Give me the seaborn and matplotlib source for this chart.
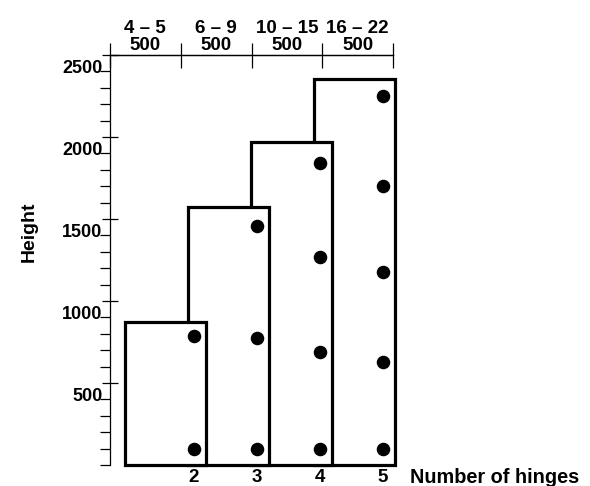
import matplotlib
matplotlib.use("Agg")
import matplotlib.pyplot as plt
import matplotlib.transforms as mtransforms
from matplotlib.ticker import MultipleLocator
import seaborn as sns
import pandas as pd

# ---- data ----
hinges = [2, 3, 4, 5]
bar_heights = [870, 1575, 1970, 2355]
dot_hinges = [2, 2, 3, 3, 3, 4, 4, 4, 4, 5, 5, 5, 5, 5]
dot_heights = [100, 785, 100, 775, 1455, 100, 690, 1270, 1840, 100, 630, 1175, 1700, 2250]
top_ranges = ["4 – 5", "6 – 9", "10 – 15", "16 – 22"]
top_values = ["500", "500", "500", "500"]
y_ticks = [500, 1000, 1500, 2000, 2500]
x_label = "Number of hinges"
y_label = "Height"

sns.set_theme(style="white")
plt.rcParams['font.family'] = ['Liberation Sans', 'DejaVu Sans']
plt.rcParams['font.weight'] = 'bold'

fig = plt.figure(figsize=(5.9, 4.86), dpi=100)
ax = fig.add_axes([110 / 590, 21 / 486, 283 / 590, 410 / 486])

# bars: drawn back to front so the left (lower) boxes sit in front
n = len(hinges)
for i in reversed(range(n)):
    ax.bar(hinges[i] - 1.1, bar_heights[i], width=1.29, align='edge',
           facecolor='white', edgecolor='black', linewidth=2.3,
           zorder=2 + (n - i), clip_on=False)

df = pd.DataFrame({"hinges": dot_hinges, "height": dot_heights})
sns.scatterplot(data=df, x="hinges", y="height", s=95, color="black",
                edgecolor="black", linewidth=0, zorder=20, ax=ax,
                legend=False, clip_on=False)

ax.set_xlim(0.667, 5.16)
ax.set_ylim(0, 2500)

for side in ["right", "bottom"]:
    ax.spines[side].set_visible(False)
for side in ["left", "top"]:
    ax.spines[side].set_visible(True)
    ax.spines[side].set_color("black")
    ax.spines[side].set_linewidth(0.9)

# y axis
ax.set_yticks(y_ticks)
ax.set_yticklabels([str(v) for v in y_ticks])
ax.yaxis.set_minor_locator(MultipleLocator(100))
ax.tick_params(axis='y', which='major', direction='inout', length=11, width=0.9,
               pad=0, labelsize=13, left=True, colors='black')
ax.tick_params(axis='y', which='minor', direction='out', length=7, width=0.9,
               left=True, color='black')
off = mtransforms.ScaledTranslation(0, -8 / 72, fig.dpi_scale_trans)
for lbl in ax.get_yticklabels():
    lbl.set_transform(lbl.get_transform() + off)
    lbl.set_fontweight('bold')

# x axis
ax.set_xticks(hinges)
ax.set_xticklabels([str(h) for h in hinges])
ax.tick_params(axis='x', which='both', length=0, pad=3, labelsize=13.5,
               bottom=True, labelcolor='black')
for lbl in ax.get_xticklabels():
    lbl.set_fontweight('bold')

ax.set_xlabel("")
ax.set_ylabel(y_label, fontsize=14, fontweight='bold', color='black')
ax.yaxis.set_label_coords(-0.255, 0.568)
fig.text(410 / 590, 1 - 477 / 486, x_label, ha='left', va='center',
         fontsize=14.3, fontweight='bold', color='black')

# top axis
ax2 = ax.twiny()
ax2.set_xlim(0, 4)
ax2.set_xticks([0, 1, 2, 3, 4])
ax2.set_xticklabels([])
ax2.set_xticks([0.5, 1.5, 2.5, 3.5], minor=True)
ax2.set_xticklabels([f"{r}\n{v}" for r, v in zip(top_ranges, top_values)],
                    minor=True, linespacing=1.0)
ax2.tick_params(axis='x', which='major', direction='inout', length=18, width=0.9,
                top=True, color='black')
ax2.tick_params(axis='x', which='minor', length=0, pad=1, labelsize=13.5,
                top=True, labelcolor='black')
for lbl in ax2.get_xticklabels(minor=True):
    lbl.set_fontweight('bold')
for side in ["left", "right", "bottom"]:
    ax2.spines[side].set_visible(False)
ax2.spines["top"].set_visible(True)
ax2.spines["top"].set_color("black")
ax2.spines["top"].set_linewidth(0.9)

fig.savefig("out.png", dpi=100)
